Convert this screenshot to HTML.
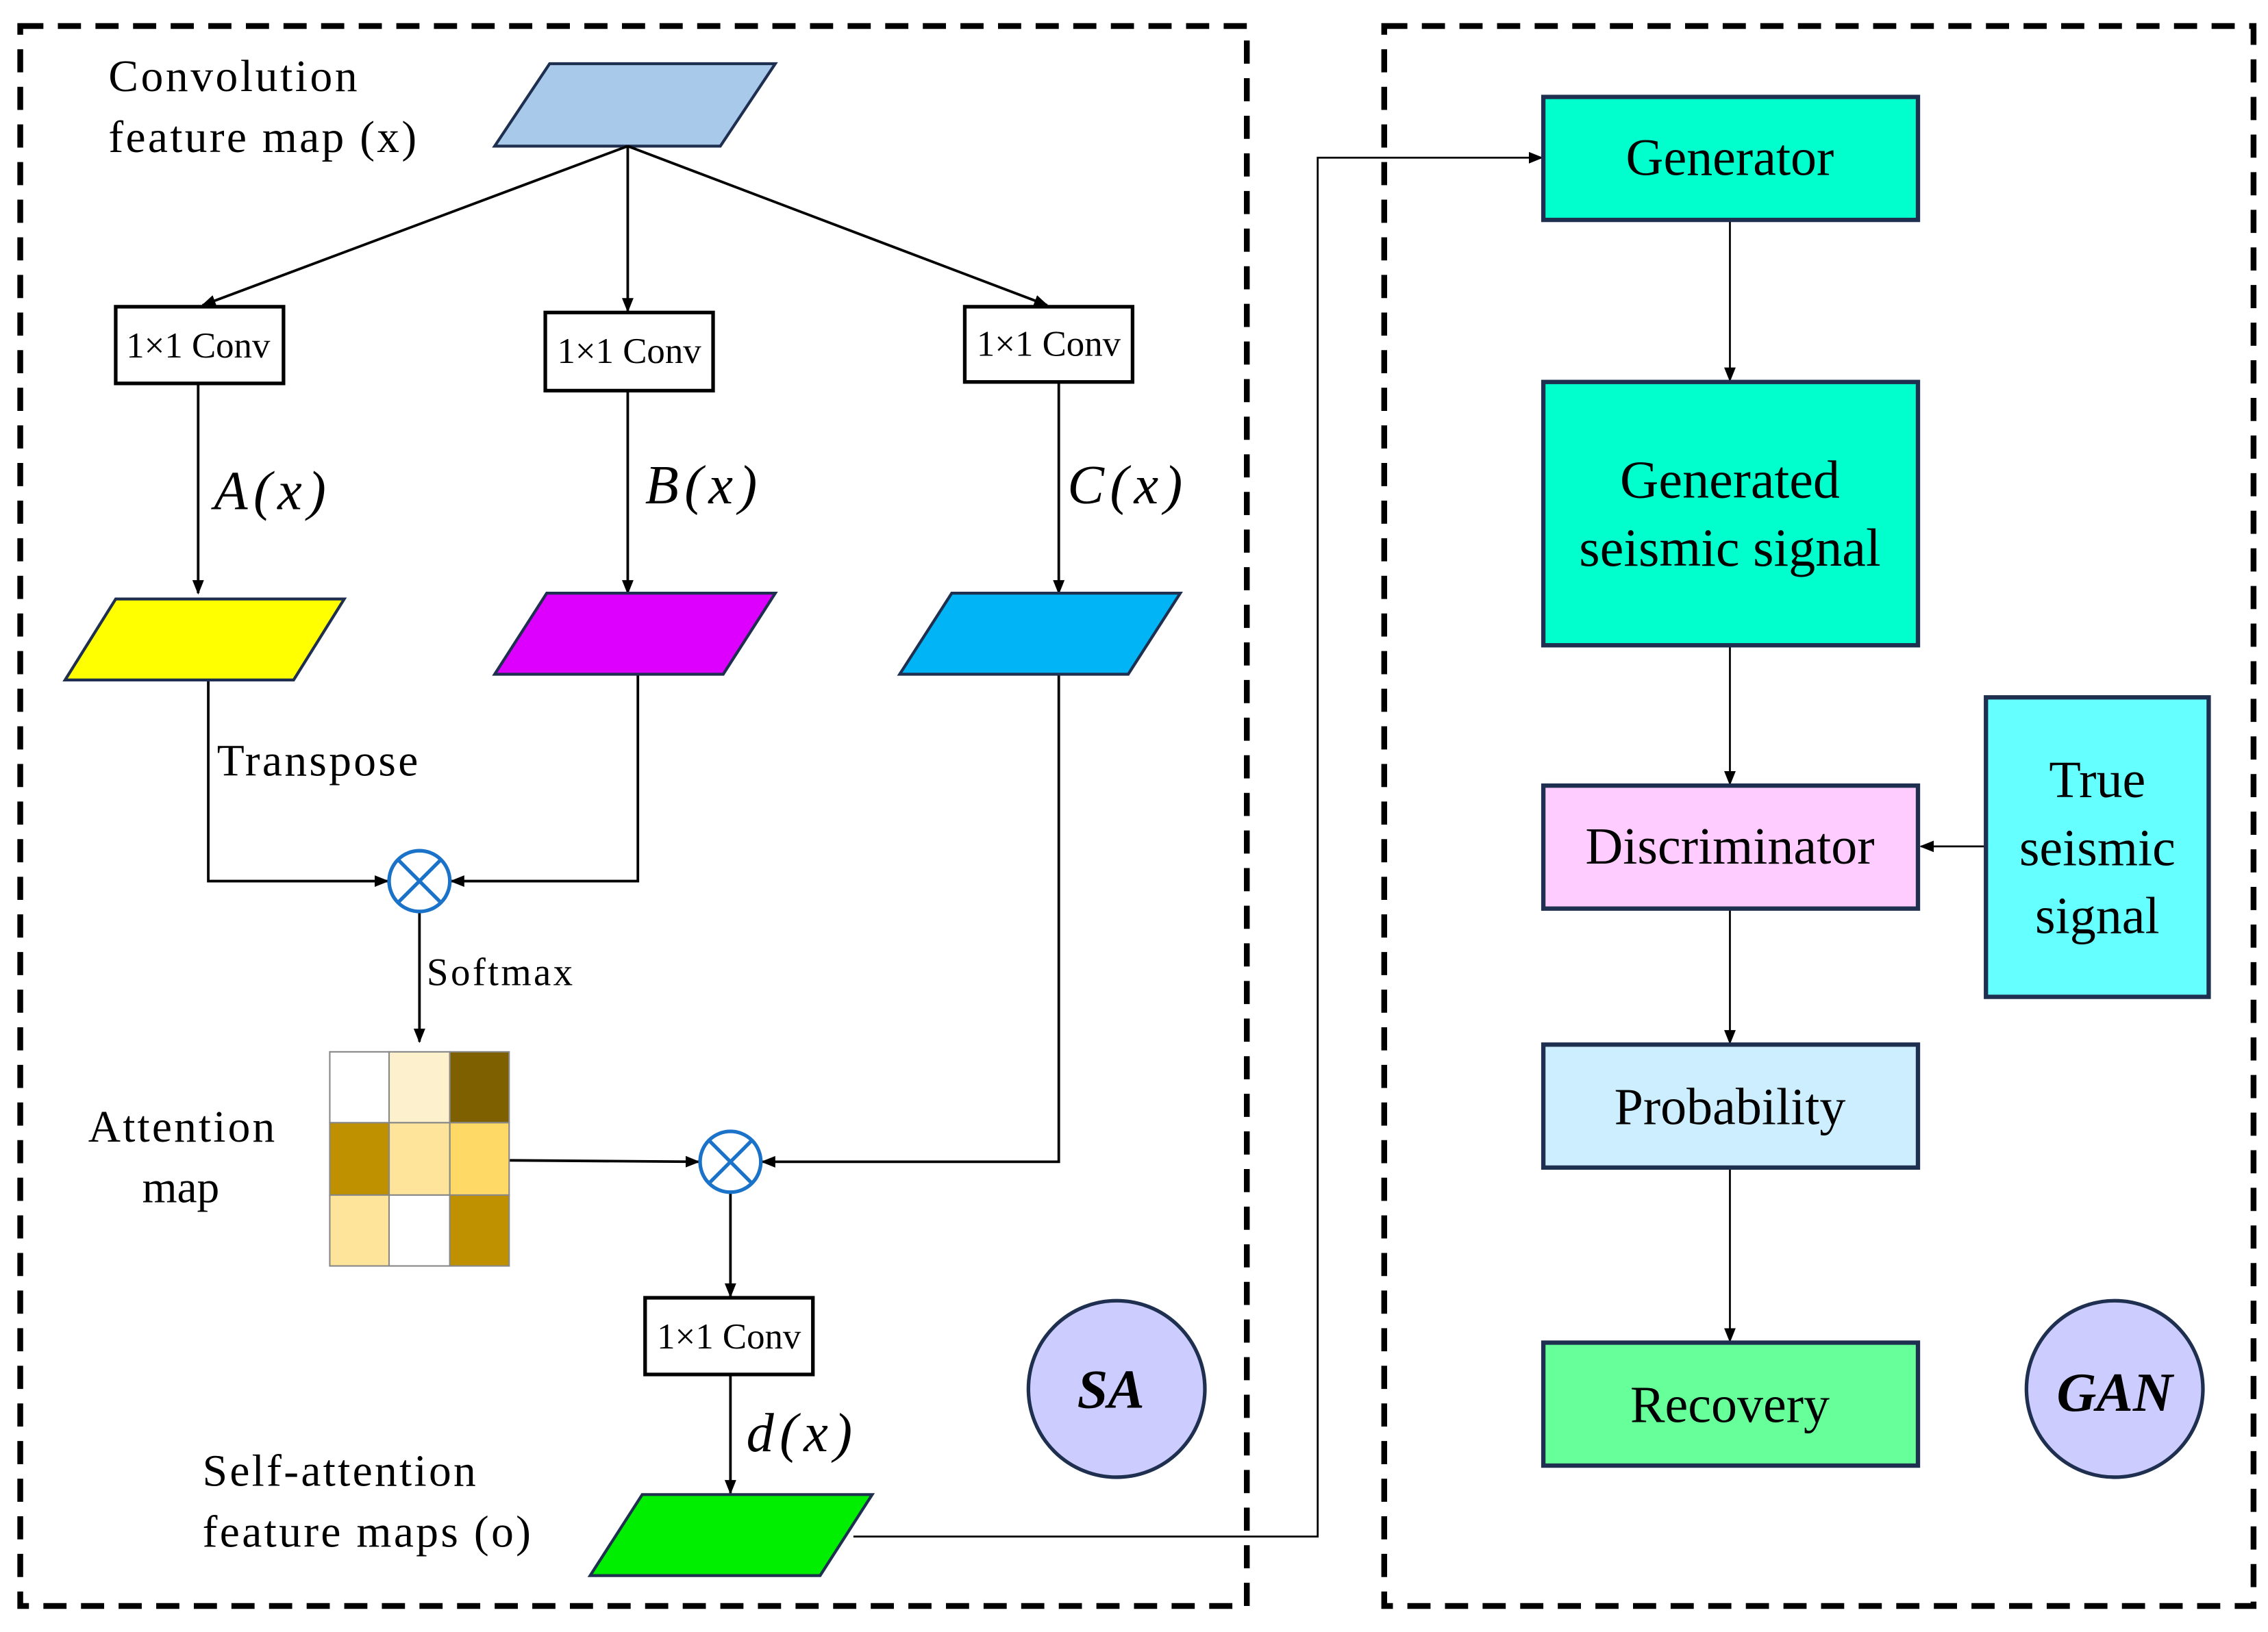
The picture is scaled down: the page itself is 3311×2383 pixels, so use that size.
<!DOCTYPE html>
<html><head><meta charset="utf-8"><style>
html,body{margin:0;padding:0;background:#fff}
svg{display:block}
text{font-family:"Liberation Serif",serif;fill:#000}
</style></head><body>
<svg width="3311" height="2383" viewBox="0 0 1568 1128" preserveAspectRatio="none" xmlns="http://www.w3.org/2000/svg">
<defs>
<marker id="ar" markerWidth="10" markerHeight="10" refX="9" refY="5" orient="auto" markerUnits="userSpaceOnUse">
<path d="M0,1 L10,5 L0,9 Z" fill="#000"/></marker>
</defs>
<rect width="1568" height="1128" fill="#fff"/>
<rect x="14" y="18" width="848" height="1092" fill="none" stroke="#000" stroke-width="4" stroke-dasharray="16,10"/>
<rect x="957" y="18" width="601" height="1092" fill="none" stroke="#000" stroke-width="4" stroke-dasharray="16,10"/>

<text x="75" y="63" font-size="31" textLength="172">Convolution</text>
<text x="75" y="105" font-size="31" textLength="213">feature map (x)</text>
<polygon points="342,101 380,44 536,44 498,101" fill="#a9c9ea" stroke="#1f2f4f" stroke-width="2"/>

<g stroke="#000" stroke-width="1.8" fill="none">
<line x1="434" y1="101" x2="140" y2="211" marker-end="url(#ar)"/>
<line x1="434" y1="101" x2="434" y2="215" marker-end="url(#ar)"/>
<line x1="434" y1="101" x2="724" y2="211" marker-end="url(#ar)"/>
<line x1="137" y1="265" x2="137" y2="410" marker-end="url(#ar)"/>
<line x1="434" y1="270" x2="434" y2="410" marker-end="url(#ar)"/>
<line x1="732" y1="264" x2="732" y2="410" marker-end="url(#ar)"/>
<polyline points="144,470 144,609 268,609" marker-end="url(#ar)"/>
<polyline points="441,466 441,609 312,609" marker-end="url(#ar)"/>
<line x1="290" y1="630" x2="290" y2="720" marker-end="url(#ar)"/>
<line x1="352" y1="802" x2="483" y2="803" marker-end="url(#ar)"/>
<polyline points="732,466 732,803 527,803" marker-end="url(#ar)"/>
<line x1="505" y1="824" x2="505" y2="896" marker-end="url(#ar)"/>
<line x1="505" y1="950" x2="505" y2="1032" marker-end="url(#ar)"/>
<polyline points="590,1062 911,1062 911,109 1066,109" stroke-width="1.3" marker-end="url(#ar)"/>
<line x1="1196" y1="152" x2="1196" y2="263" stroke-width="1.3" marker-end="url(#ar)"/>
<line x1="1196" y1="446" x2="1196" y2="542" stroke-width="1.3" marker-end="url(#ar)"/>
<line x1="1373" y1="585" x2="1328" y2="585" stroke-width="1.3" marker-end="url(#ar)"/>
<line x1="1196" y1="628" x2="1196" y2="721" stroke-width="1.3" marker-end="url(#ar)"/>
<line x1="1196" y1="807" x2="1196" y2="927" stroke-width="1.3" marker-end="url(#ar)"/>
</g>

<g stroke="#000" stroke-width="2.5" fill="#fff">
<rect x="80" y="212" width="116" height="53"/>
<rect x="377" y="216" width="116" height="54"/>
<rect x="667" y="212" width="116" height="52"/>
<rect x="446" y="897" width="116" height="53"/>
</g>
<g font-size="25" text-anchor="middle">
<text x="137" y="247">1×1 Conv</text>
<text x="435" y="251">1×1 Conv</text>
<text x="725" y="246">1×1 Conv</text>
<text x="504" y="932">1×1 Conv</text>
</g>
<g font-size="38" font-style="italic" letter-spacing="4">
<text x="148" y="352">A(x)</text>
<text x="446" y="348">B(x)</text>
<text x="738" y="348">C(x)</text>
<text x="516" y="1003">d(x)</text>
</g>

<g stroke="#1f2f4f" stroke-width="2">
<polygon points="45,470 80,414 238,414 203,470" fill="#ffff00"/>
<polygon points="342,466 378,410 536,410 500,466" fill="#dd00ff"/>
<polygon points="622,466 658,410 816,410 780,466" fill="#00b4f5"/>
<polygon points="408,1089 444,1033 603,1033 567,1089" fill="#00ee00"/>
</g>

<text x="150" y="536" font-size="31" textLength="139">Transpose</text>
<text x="295" y="681" font-size="27" textLength="101">Softmax</text>

<g stroke="#1a73c8" stroke-width="2.5" fill="#fff">
<circle cx="290" cy="609" r="21"/>
<line x1="275" y1="594" x2="305" y2="624"/><line x1="305" y1="594" x2="275" y2="624"/>
<circle cx="505" cy="803" r="21"/>
<line x1="490" y1="788" x2="520" y2="818"/><line x1="520" y1="788" x2="490" y2="818"/>
</g>

<g stroke="#888" stroke-width="1">
<rect x="228" y="727" width="41" height="49" fill="#ffffff"/>
<rect x="269" y="727" width="42" height="49" fill="#fdf0cc"/>
<rect x="311" y="727" width="41" height="49" fill="#7f6000"/>
<rect x="228" y="776" width="41" height="50" fill="#bf9000"/>
<rect x="269" y="776" width="42" height="50" fill="#fde49a"/>
<rect x="311" y="776" width="41" height="50" fill="#ffd966"/>
<rect x="228" y="826" width="41" height="49" fill="#fde49a"/>
<rect x="269" y="826" width="42" height="49" fill="#ffffff"/>
<rect x="311" y="826" width="41" height="49" fill="#bf9000"/>
</g>
<text x="61" y="789" font-size="31" textLength="129">Attention</text>
<text x="125" y="831" font-size="31" text-anchor="middle">map</text>
<text x="140" y="1027" font-size="31" textLength="189">Self-attention</text>
<text x="140" y="1069" font-size="31" textLength="227">feature maps (o)</text>

<circle cx="772" cy="960" r="61" fill="#ccccff" stroke="#1f2f4f" stroke-width="2.5"/>
<text x="768" y="973" font-size="38" font-weight="bold" font-style="italic" text-anchor="middle">SA</text>
<circle cx="1462" cy="960" r="61" fill="#ccccff" stroke="#1f2f4f" stroke-width="2.5"/>
<text x="1462" y="975" font-size="38" font-weight="bold" font-style="italic" text-anchor="middle">GAN</text>

<g stroke="#1f2f4f" stroke-width="3">
<rect x="1067" y="67" width="259" height="85" fill="#00ffcc"/>
<rect x="1067" y="264" width="259" height="182" fill="#00ffcc"/>
<rect x="1067" y="543" width="259" height="85" fill="#ffccff"/>
<rect x="1373" y="482" width="154" height="207" fill="#66ffff"/>
<rect x="1067" y="722" width="259" height="85" fill="#cceeff"/>
<rect x="1067" y="928" width="259" height="85" fill="#66ff99"/>
</g>
<g font-size="36" text-anchor="middle">
<text x="1196" y="121">Generator</text>
<text x="1196" y="344" font-size="37">Generated</text>
<text x="1196" y="391" font-size="37">seismic signal</text>
<text x="1196" y="597">Discriminator</text>
<text x="1450" y="551">True</text>
<text x="1450" y="598">seismic</text>
<text x="1450" y="645">signal</text>
<text x="1196" y="777">Probability</text>
<text x="1196" y="983">Recovery</text>
</g>
</svg>
</body></html>
